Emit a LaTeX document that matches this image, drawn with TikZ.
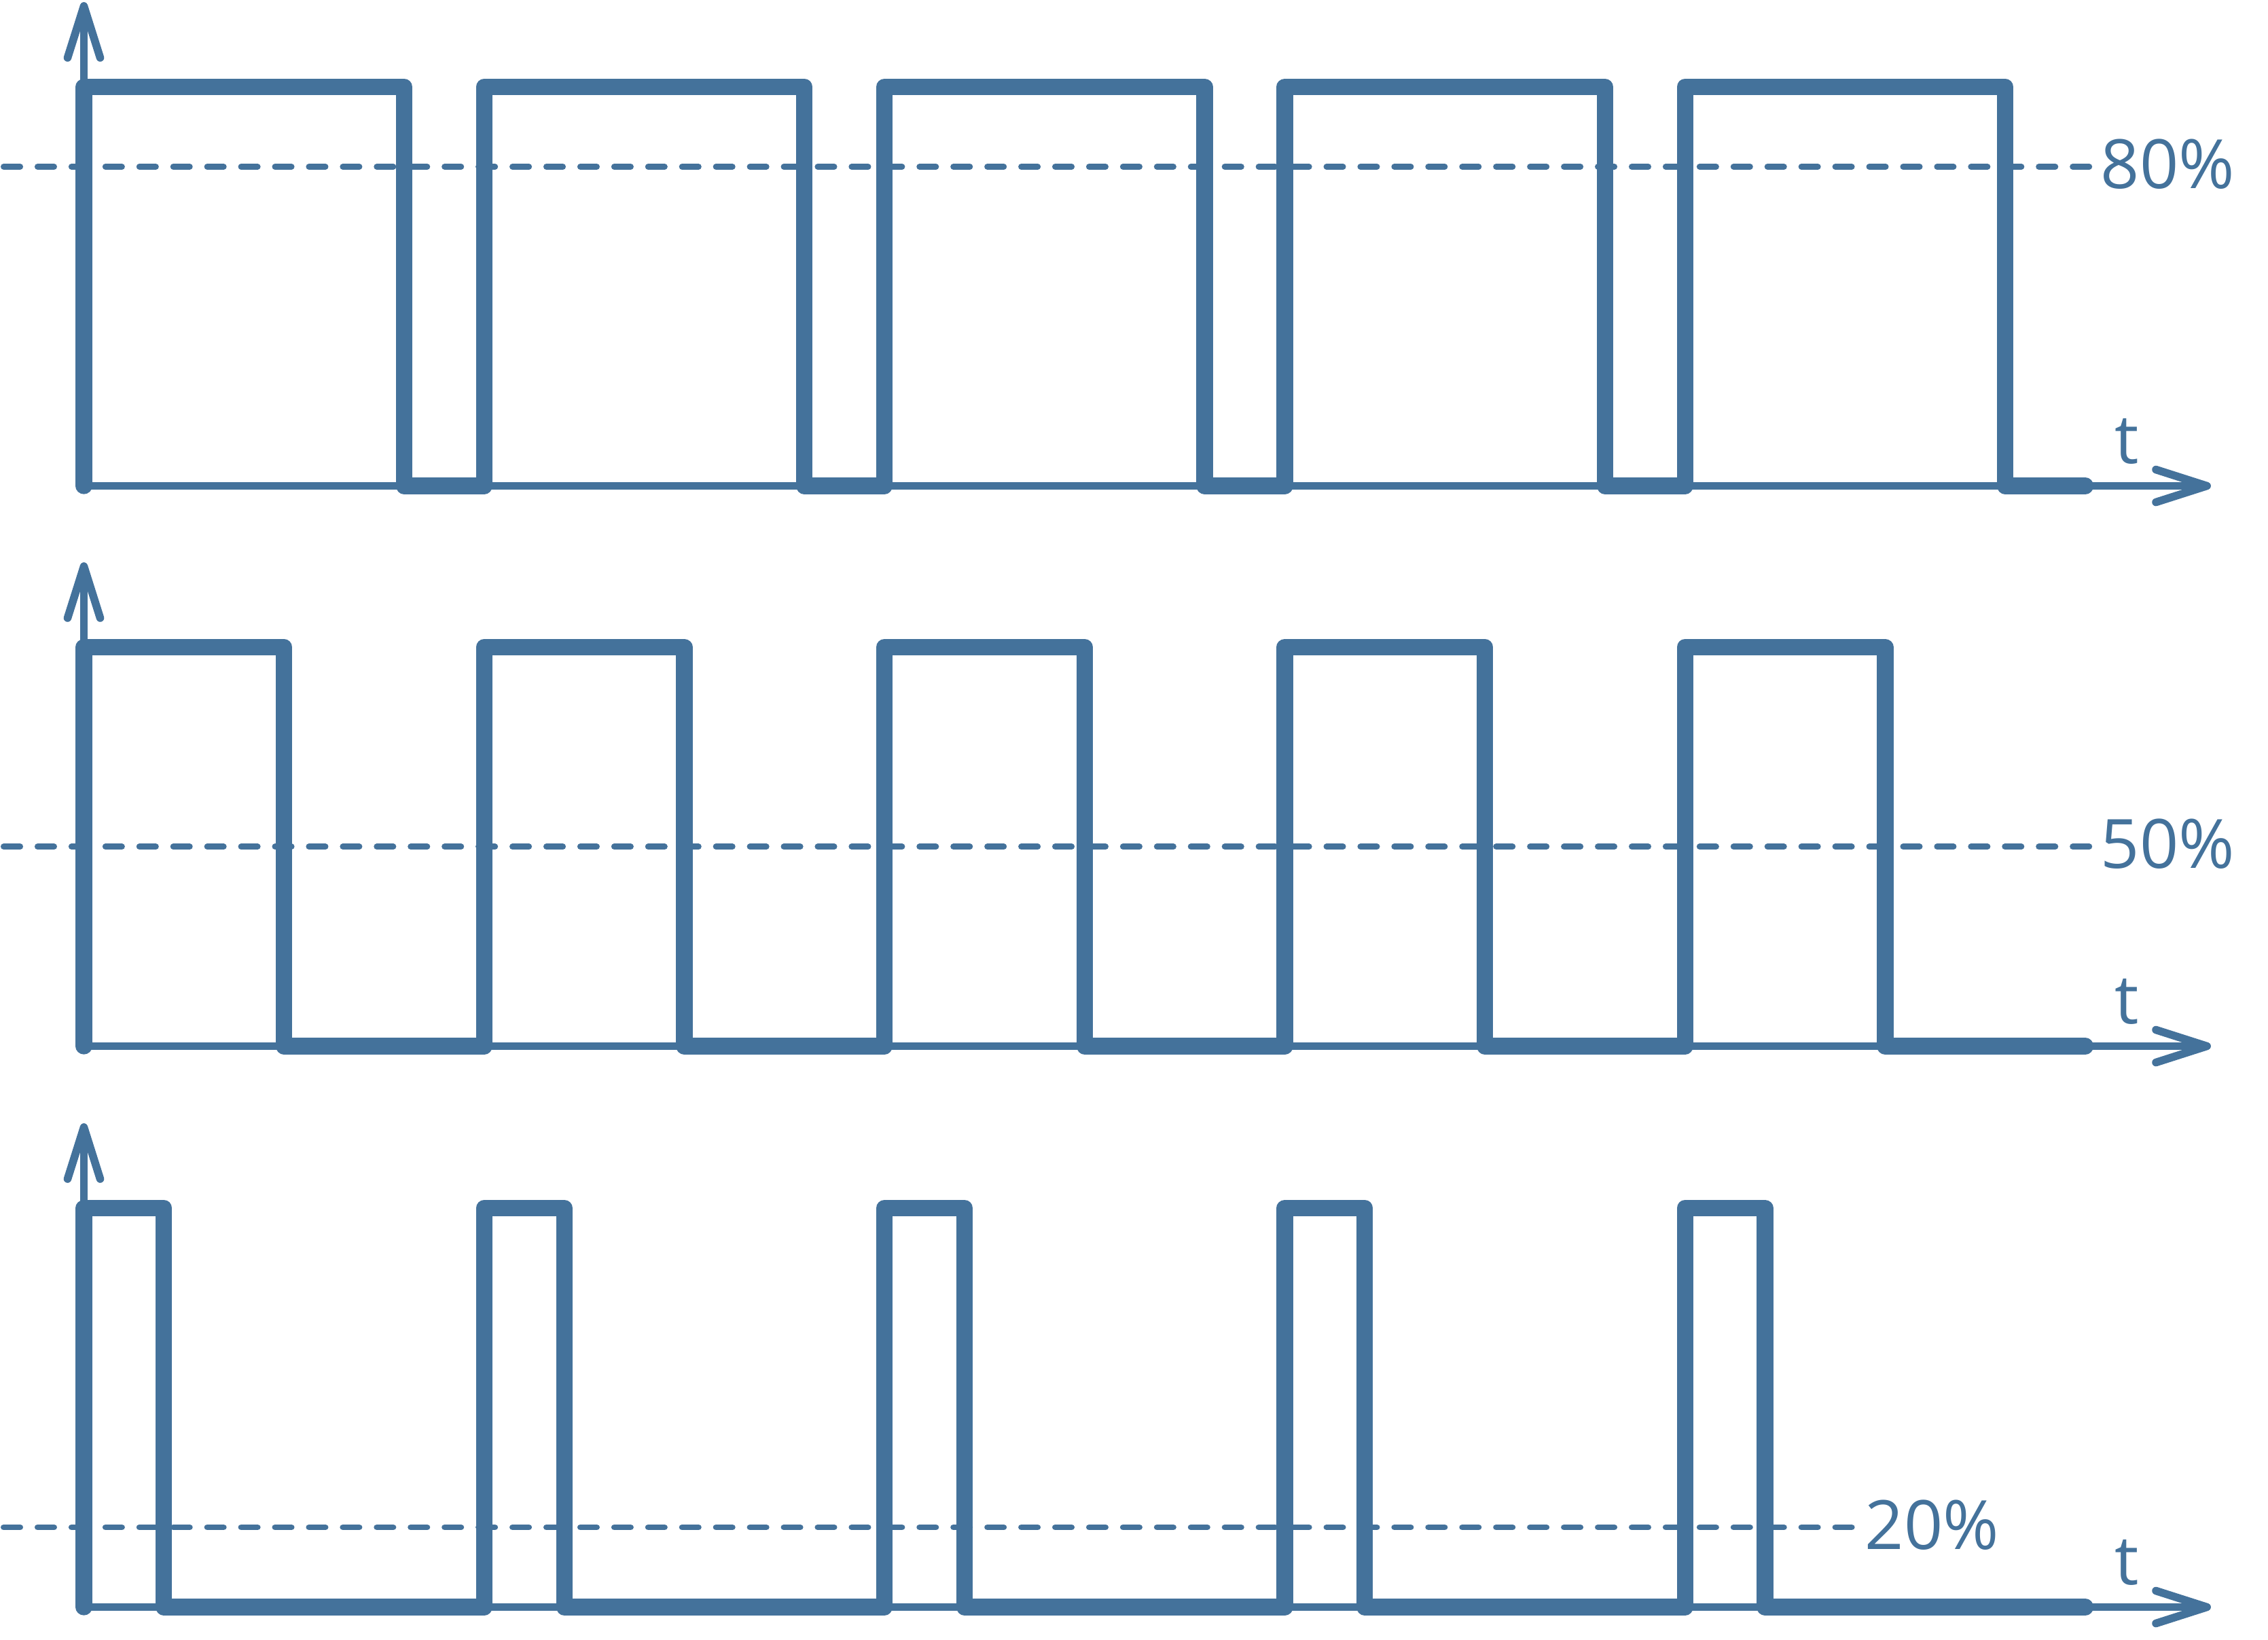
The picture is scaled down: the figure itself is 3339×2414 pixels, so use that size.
\documentclass[tikz,border=0pt]{standalone}
\usepackage{fontspec}
\setmainfont{Open Sans}
\definecolor{sig}{RGB}{68,114,155}
\begin{document}
\begin{tikzpicture}[x=0.01cm,y=-0.01cm,
  axisline/.style={draw=sig,line width=3.3pt,line cap=round,line join=round},
  wave/.style={draw=sig,line width=6.9pt,line cap=round,line join=round},
  dashline/.style={draw=sig,line width=2.5pt,line cap=round,dash pattern=on 6.9pt off 7.3pt},
  lbl/.style={text=sig,inner sep=0pt,font=\fontsize{28.5pt}{34pt}\selectfont}]
\useasboundingbox (0,0) rectangle (3339,2414);
\def\xo{123.5}
\def\per{589.3}
% panels: offset, duty, dash end, label x
\foreach \off/\d/\dend/\lx/\lab/\nm in {0/0.8/3077/3092/80\%/a, 825/0.5/3077/3092/50\%/b, 1651/0.2/2727/2745/20\%/c}{
  \pgfmathsetmacro{\base}{715.5+\off}
  \pgfmathsetmacro{\high}{128+\off}
  \pgfmathsetmacro{\lev}{715.5-\d*587.5+\off}
  \pgfmathsetmacro{\tip}{9+\off}
  % axes
  \coordinate (o\nm) at (\xo,\base);
  \coordinate (yt\nm) at (\xo,\tip);
  \coordinate (xt\nm) at (3249,\base);
  \draw[axisline] (o\nm) -- (yt\nm);
  \draw[axisline] ([xshift=-24*0.01cm,yshift=-76*0.01cm]yt\nm) -- (yt\nm) -- ([xshift=24*0.01cm,yshift=-76*0.01cm]yt\nm);
  \draw[axisline] (o\nm) -- (xt\nm);
  \draw[axisline] ([xshift=-75*0.01cm,yshift=24*0.01cm]xt\nm) -- (xt\nm) -- ([xshift=-75*0.01cm,yshift=-24*0.01cm]xt\nm);
  % dashed level
  \coordinate (ds\nm) at (5.4,\lev);
  \coordinate (de\nm) at (\dend,\lev);
  \draw[dashline] (ds\nm) -- (de\nm);
  % waveform
  \draw[wave] (o\nm) \foreach \k in {0,...,4}{
     -- ({\xo+\k*\per},\high) -- ({\xo+\k*\per+\d*\per},\high)
     -- ({\xo+\k*\per+\d*\per},\base) -- ({\xo+(\k+1)*\per},\base)};
  % labels
  \node[lbl,anchor=base west] (p\nm) at (\lx,{\lev+32}) {\lab};
  \node[lbl,anchor=base] (t\nm) at (3131,{\base-33}) {t};
}
\end{tikzpicture}
\end{document}
